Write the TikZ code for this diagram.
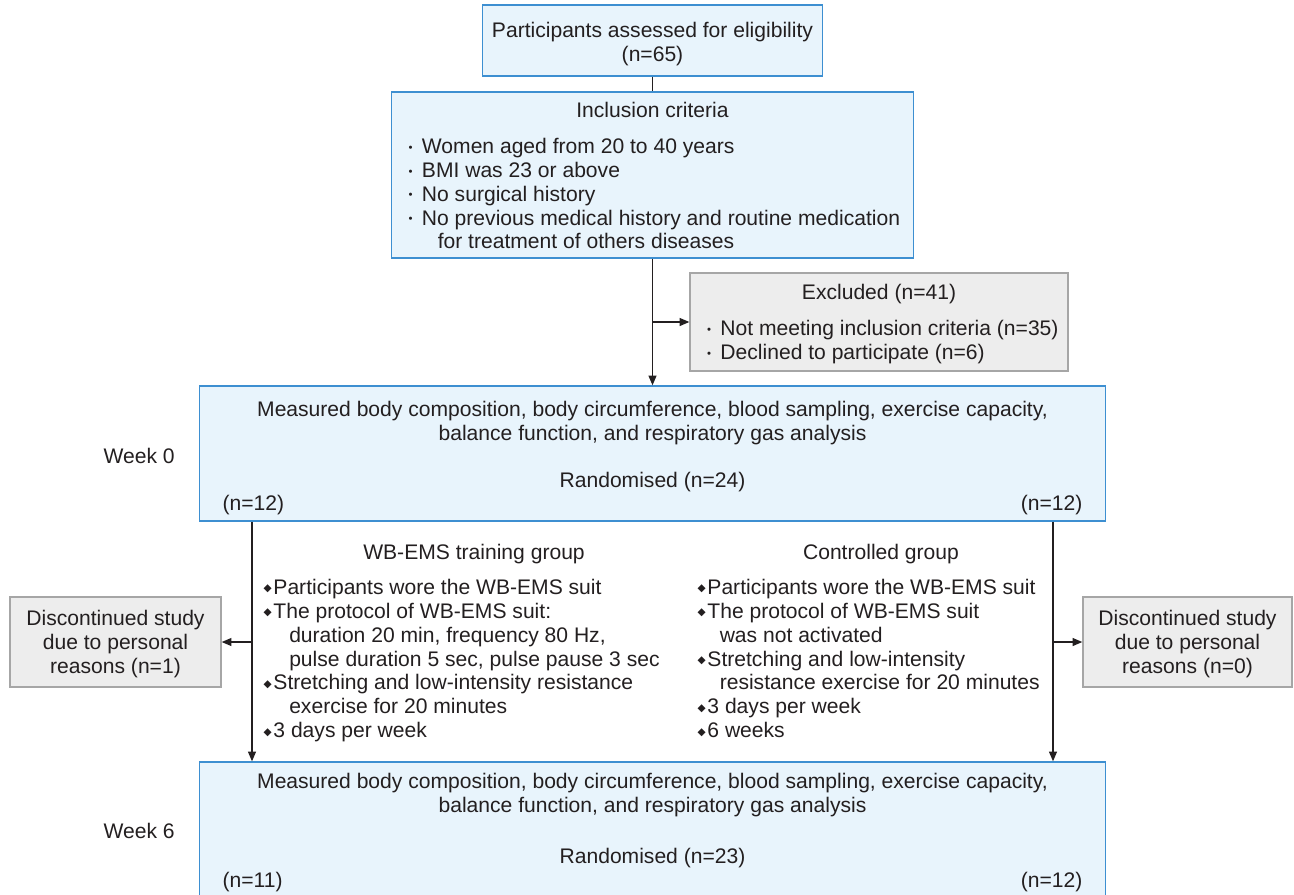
\documentclass[tikz,border=0pt]{standalone}
\usepackage{fontspec}
\setmainfont{Liberation Sans}
\newfontfamily\symfont{DejaVu Sans}
\usetikzlibrary{arrows.meta}

\definecolor{boxblue}{HTML}{3D8FD1}
\definecolor{fillblue}{HTML}{E8F4FC}
\definecolor{boxgray}{HTML}{A6A6A6}
\definecolor{fillgray}{HTML}{EDEDED}
\definecolor{linecol}{HTML}{231F20}

\newcommand{\idot}{\makebox[0.68em][l]{\hspace*{0.5pt}\raisebox{1.3pt}{\fontsize{6.5}{6.5}\selectfont •}}}
\newcommand{\dbul}{\makebox[5.6pt][l]{\raisebox{1.4pt}{\symfont\fontsize{6}{6}\selectfont ◆}}}

\begin{document}
\begin{tikzpicture}[x=0.02cm,y=-0.02cm,>=Triangle,
    line width=0.7pt,draw=linecol,
    arr/.style={-{Triangle[length=5.5pt,width=4.5pt]}},
    txt/.style={inner sep=0pt,font=\fontsize{12}{13.6}\selectfont,text=linecol},
    blue box/.style={txt,draw=boxblue,fill=fillblue,line width=0.8pt},
    gray box/.style={txt,draw=boxgray,fill=fillgray,line width=0.8pt}]

\clip (0,0) rectangle (1294,894);

% boxes
\node[blue box,minimum width=6.8cm,minimum height=1.42cm] (assess) at (652.5,40.5) {};
\node[blue box,minimum width=10.44cm,minimum height=3.32cm] (incl) at (652.5,175) {};
\node[gray box,minimum width=7.56cm,minimum height=1.96cm] (excl) at (879,322) {};
\node[blue box,minimum width=18.12cm,minimum height=2.7cm] (week0) at (652.5,453.5) {};
\node[gray box,minimum width=4.22cm,minimum height=1.8cm] (ldisc) at (115.5,642) {};
\node[gray box,minimum width=4.18cm,minimum height=1.8cm] (rdisc) at (1187.5,642) {};
\node[blue box,minimum width=18.12cm,minimum height=2.96cm] (week6) at (652.5,836) {};

% texts of the small boxes
\node[txt,anchor=north,align=center] (assesstext) at (652.5,21.5)
  {Participants assessed for eligibility\\(n=65)};
\node[txt,anchor=north,align=center] (ldisctext) at (115.5,609.5)
  {Discontinued study\\due to personal\\reasons (n=1)};
\node[txt,anchor=north,align=center] (rdisctext) at (1187.5,609.5)
  {Discontinued study\\due to personal\\reasons (n=0)};

% inclusion criteria
\node[txt,anchor=base] (incltitle) at (652.5,117) {Inclusion criteria};
\node[txt,anchor=north west,align=left] (incllist) at (407,137.5)
  {\idot Women aged from 20 to 40 years\\
   \idot BMI was 23 or above\\
   \idot No surgical history\\
   \idot No previous medical history and routine medication\\
   \hspace*{0.68em}\hspace*{9pt}for treatment of others diseases};

% excluded
\node[txt,anchor=base] (excltitle) at (879,299) {Excluded (n=41)};
\node[txt,anchor=north west,align=left] (excllist) at (705.5,319.5)
  {\idot Not meeting inclusion criteria (n=35)\\
   \idot Declined to participate (n=6)};

% week 0
\node[txt,anchor=base west] (wk0) at (103,463) {Week 0};
\node[txt,anchor=north,align=center] (meas0) at (652.5,400.5)
  {Measured body composition, body circumference, blood sampling, exercise capacity,\\
   balance function, and respiratory gas analysis};
\node[txt,anchor=base] (rand0) at (652.5,487) {Randomised (n=24)};
\node[txt,anchor=base west] (n0l) at (222,510) {(n=12)};
\node[txt,anchor=base east] (n0r) at (1083,510) {(n=12)};

% groups
\node[txt,anchor=base] (emstitle) at (474,559) {WB-EMS training group};
\node[txt,anchor=north west,align=left] (emslist) at (263,578.5)
  {\dbul Participants wore the WB-EMS suit\\
   \dbul The protocol of WB-EMS suit:\\
   \hspace*{5.6pt}\hspace*{9pt}duration 20 min, frequency 80 Hz,\\
   \hspace*{5.6pt}\hspace*{9pt}pulse duration 5 sec, pulse pause 3 sec\\
   \dbul Stretching and low-intensity resistance\\
   \hspace*{5.6pt}\hspace*{9pt}exercise for 20 minutes\\
   \dbul 3 days per week};
\node[txt,anchor=base] (ctrltitle) at (881,559) {Controlled group};
\node[txt,anchor=north west,align=left] (ctrllist) at (697,578.5)
  {\dbul Participants wore the WB-EMS suit\\
   \dbul The protocol of WB-EMS suit\\
   \hspace*{5.6pt}\hspace*{7pt}was not activated\\
   \dbul Stretching and low-intensity\\
   \hspace*{5.6pt}\hspace*{7pt}resistance exercise for 20 minutes\\
   \dbul 3 days per week\\
   \dbul 6 weeks};

% week 6
\node[txt,anchor=base west] (wk6) at (103,838) {Week 6};
\node[txt,anchor=north,align=center] (meas6) at (652.5,772.5)
  {Measured body composition, body circumference, blood sampling, exercise capacity,\\
   balance function, and respiratory gas analysis};
\node[txt,anchor=base] (rand6) at (652.5,863) {Randomised (n=23)};
\node[txt,anchor=base west] (n6l) at (222,887) {(n=11)};
\node[txt,anchor=base east] (n6r) at (1083,887) {(n=12)};

% connectors
\coordinate (lsplit) at (252,642);
\coordinate (rsplit) at (1053,642);
\draw (assess) -- (incl);
\draw[arr] (incl) -- (week0);
\draw[arr] (incl.south |- excl.west) -- (excl.west);
\draw[arr] (week0.south -| lsplit) -- (week6.north -| lsplit);
\draw[arr] (lsplit) -- (ldisc.east);
\draw[arr] (week0.south -| rsplit) -- (week6.north -| rsplit);
\draw[arr] (rsplit) -- (rdisc.west);

\end{tikzpicture}
\end{document}
